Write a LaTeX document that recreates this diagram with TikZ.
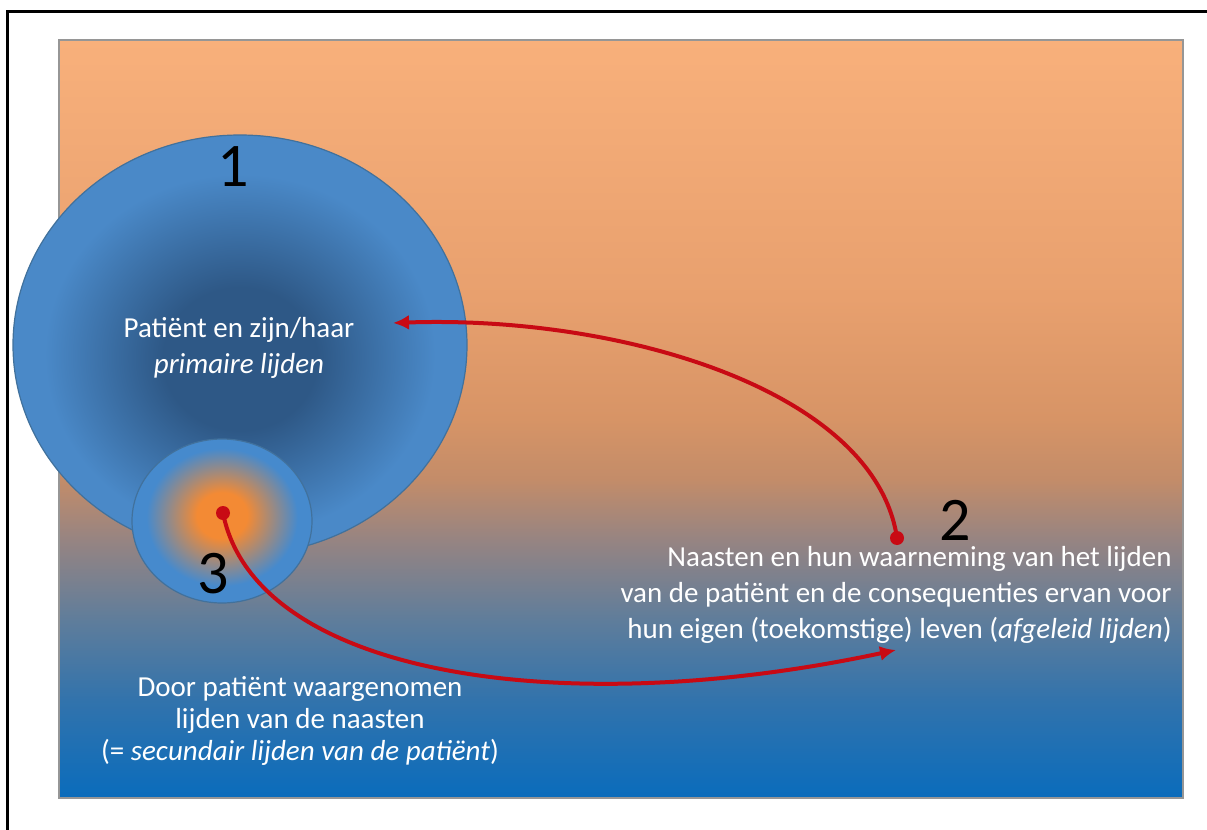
\documentclass[tikz,border=0pt]{standalone}
\usepackage{fontspec}
\setmainfont{Carlito}
\usetikzlibrary{arrows.meta}
\definecolor{bg0}{RGB}{10,108,188}
\definecolor{bg1}{RGB}{50,115,172}
\definecolor{bg2}{RGB}{95,125,155}
\definecolor{bg3}{RGB}{150,132,130}
\definecolor{bg4}{RGB}{195,140,105}
\definecolor{bg5}{RGB}{215,148,102}
\definecolor{bg6}{RGB}{232,160,110}
\definecolor{bg7}{RGB}{248,176,123}
\definecolor{dkblue}{RGB}{46,88,134}
\definecolor{ltblue}{RGB}{74,137,200}
\definecolor{ringblue}{RGB}{70,138,205}
\definecolor{orng}{RGB}{243,138,52}
\definecolor{edgeblue}{RGB}{65,113,156}
\definecolor{arrred}{RGB}{200,10,20}
\definecolor{framegray}{RGB}{150,150,150}
% TikZ maps a path's bounding box onto the 25bp..75bp part of a shading
\pgfdeclareverticalshading{bgshade}{100bp}{color(0bp)=(bg0); color(25bp)=(bg0); color(31.5bp)=(bg1); color(36.75bp)=(bg2); color(42bp)=(bg3); color(46bp)=(bg4); color(50bp)=(bg5); color(58bp)=(bg6); color(75bp)=(bg7); color(100bp)=(bg7)}
\pgfdeclareradialshading{bigshade}{\pgfpoint{0bp}{-2bp}}{color(0bp)=(dkblue); color(8.5bp)=(dkblue); color(21.5bp)=(ltblue); color(25bp)=(ltblue); color(50bp)=(ltblue)}
\pgfdeclareradialshading{smallshade}{\pgfpoint{0bp}{2bp}}{color(0bp)=(orng); color(7bp)=(orng); color(21bp)=(ringblue); color(25bp)=(ringblue); color(50bp)=(ringblue)}
\tikzset{
  txt/.style={text=white, align=center, inner sep=0pt, font=\fontsize{14.5}{18}\selectfont},
  digit/.style={text=black, inner sep=0pt, font=\fontsize{31}{36}\selectfont},
  reddot/.style={circle, fill=arrred, inner sep=0pt, minimum size=7pt},
  redarrow/.style={draw=arrred, line width=2pt, -{Latex[length=8pt,width=7.5pt]}},
}
\begin{document}
\begin{tikzpicture}[x=0.5pt,y=-0.5pt]
\useasboundingbox (0,0) rectangle (1207,830);
% outer frame (only top and left edges are visible)
\draw[black, line width=1.5pt] (7,830) -- (7,11) -- (1207,11);
% background gradient
\path[shading=bgshade, draw=framegray, line width=0.7pt] (59,40) rectangle (1183,798);
% big circle
\path[shading=bigshade, draw=edgeblue, line width=0.6pt] (240,345) ellipse [x radius=227, y radius=210];
% small circle
\path[shading=smallshade, draw=edgeblue, line width=0.6pt] (222,521) ellipse [x radius=90, y radius=82];
% digits
\node[digit] (n1) at (233,167) {1};
\node[digit] (n3) at (213,574) {3};
\node[digit] (n2) at (955,520) {2};
% texts
\node[txt] (t1) at (239,348) {Patiënt en zijn/haar\\\textit{primaire lijden}};
\node[txt, align=right, anchor=east] (t2) at (1172,595) {Naasten en hun waarneming van het lijden\\van de patiënt en de consequenties ervan voor\\hun eigen (toekomstige) leven (\textit{afgeleid lijden})};
\node[txt, font=\fontsize{14.5}{16}\selectfont] (t3) at (300,721) {Door patiënt waargenomen\\lijden van de naasten\\(= \textit{secundair lijden van de patiënt})};
% arrows
\coordinate (p2) at (897,538);
\coordinate (p3) at (223,513);
\coordinate (a1) at (393,323);
\coordinate (a2) at (896,650);
\draw[redarrow] (p2) .. controls (875,390) and (620,315) .. (a1);
\draw[redarrow] (p3) .. controls (255,675) and (560,722) .. (a2);
\node[reddot] (d2) at (p2) {};
\node[reddot] (d3) at (p3) {};
\end{tikzpicture}
\end{document}
